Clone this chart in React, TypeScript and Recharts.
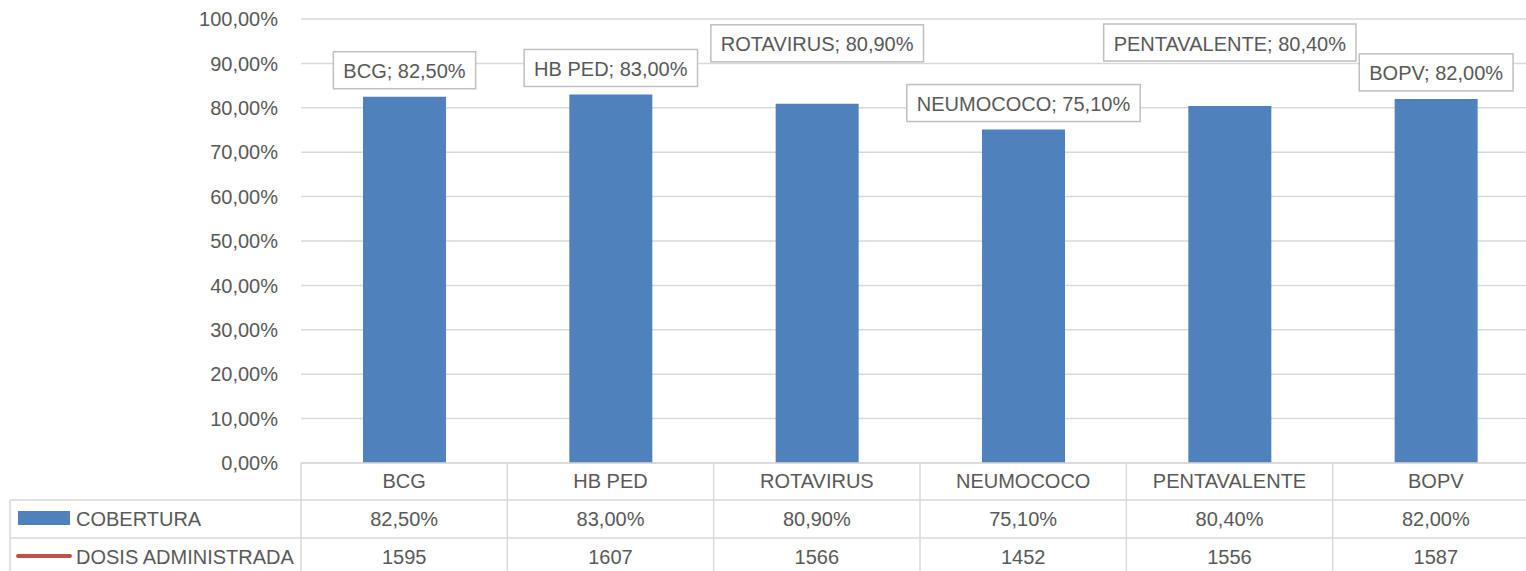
import React from 'react';
import { BarChart, Bar, XAxis, YAxis, CartesianGrid, LabelList } from 'recharts';

const categories = ['BCG', 'HB PED', 'ROTAVIRUS', 'NEUMOCOCO', 'PENTAVALENTE', 'BOPV'];
const cobertura = [0.825, 0.83, 0.809, 0.751, 0.804, 0.82];
const dosis = [1595, 1607, 1566, 1452, 1556, 1587];
const yTicks = [0, 0.1, 0.2, 0.3, 0.4, 0.5, 0.6, 0.7, 0.8, 0.9, 1];

// labels that were dragged upwards in the original
const labelLift = [0, 0, 34, 0, 37, 0];

const VIEW_W = 1526;
const W = 1539; // the original chart runs a little past the right edge of the crop
const H = 571;
const Y_W = 301;
const TOP = 19;
const X_H = 108;
const BAND = (W - Y_W) / categories.length;

const FONT = '"Liberation Sans", Arial, sans-serif';
const TEXT = '#595959';
const GRID = '#D9D9D9';
const BLUE = '#4F81BD';
const RED = '#C0504D';

const data = categories.map((name, i) => ({ name, cobertura: cobertura[i], dosis: dosis[i] }));

const pct = (v: number) => (v * 100).toFixed(2).replace('.', ',') + '%';

let ctx: CanvasRenderingContext2D | null = null;
function textWidth(s: string) {
  if (!ctx) ctx = document.createElement('canvas').getContext('2d');
  if (!ctx) return s.length * 11;
  ctx.font = `20px ${FONT}`;
  return ctx.measureText(s).width;
}

function DataLabel(props: any) {
  const { x, y, width, index, value } = props;
  const text = `${categories[index]}; ${pct(value)}`;
  const w = textWidth(text) + 20;
  const h = 37;
  const cx = x + width / 2;
  const bottom = y - 8 - labelLift[index];
  return (
    <g>
      <rect x={cx - w / 2} y={bottom - h} width={w} height={h} fill="#fff" stroke="#BFBFBF" strokeWidth={1.5} />
      <text x={cx} y={bottom - h / 2 + 1} textAnchor="middle" dominantBaseline="central" fill={TEXT} fontSize={20} fontFamily={FONT}>
        {text}
      </text>
    </g>
  );
}

function TableTick(props: any) {
  const { x, y, payload, index } = props;
  const left = x - BAND / 2;
  const r1 = y + 37;
  const r2 = y + 75;
  const txt = { fill: TEXT, fontSize: 20, fontFamily: FONT, dominantBaseline: 'central' as const };
  return (
    <g>
      <line x1={left} y1={y} x2={left} y2={y + X_H} stroke={GRID} strokeWidth={1.5} />
      <line x1={left} y1={r1} x2={left + BAND} y2={r1} stroke={GRID} strokeWidth={1.5} />
      <line x1={left} y1={r2} x2={left + BAND} y2={r2} stroke={GRID} strokeWidth={1.5} />
      <text x={x} y={y + 18} textAnchor="middle" {...txt}>{payload.value}</text>
      <text x={x} y={y + 56} textAnchor="middle" {...txt}>{pct(cobertura[index])}</text>
      <text x={x} y={y + 94} textAnchor="middle" {...txt}>{dosis[index]}</text>
      {index === 0 && (
        <g>
          <line x1={10} y1={r1} x2={left} y2={r1} stroke={GRID} strokeWidth={1.5} />
          <line x1={10} y1={r2} x2={left} y2={r2} stroke={GRID} strokeWidth={1.5} />
          <line x1={10} y1={r1} x2={10} y2={y + X_H} stroke={GRID} strokeWidth={1.5} />
          <rect x={18} y={r1 + 11} width={52} height={14} fill={BLUE} />
          <text x={76} y={y + 56} textAnchor="start" {...txt}>COBERTURA</text>
          <line x1={18} y1={y + 93} x2={70} y2={y + 93} stroke={RED} strokeWidth={4} strokeLinecap="round" />
          <text x={76} y={y + 94} textAnchor="start" {...txt}>DOSIS ADMINISTRADA</text>
        </g>
      )}
    </g>
  );
}

export default function App() {
  return (
    <div style={{ position: 'absolute', left: 0, top: 0, width: VIEW_W, height: H, overflow: 'hidden', background: '#fff', fontFamily: FONT }}>
      <BarChart width={W} height={H} data={data} margin={{ top: TOP, right: 0, bottom: 0, left: 0 }}>
        <CartesianGrid vertical={false} stroke={GRID} strokeWidth={1.5} />
        <XAxis
          dataKey="name"
          height={X_H}
          interval={0}
          tickSize={0}
          tickMargin={0}
          tickLine={false}
          axisLine={{ stroke: GRID, strokeWidth: 1.5 }}
          tick={<TableTick />}
        />
        <YAxis
          width={Y_W}
          domain={[0, 1]}
          ticks={yTicks}
          tickFormatter={pct}
          axisLine={false}
          tickLine={false}
          tickSize={0}
          tickMargin={23}
          tick={{ fill: TEXT, fontSize: 20, fontFamily: FONT }}
        />
        <Bar dataKey="cobertura" fill={BLUE} barSize={83} isAnimationActive={false}>
          <LabelList dataKey="cobertura" content={<DataLabel />} />
        </Bar>
      </BarChart>
    </div>
  );
}
